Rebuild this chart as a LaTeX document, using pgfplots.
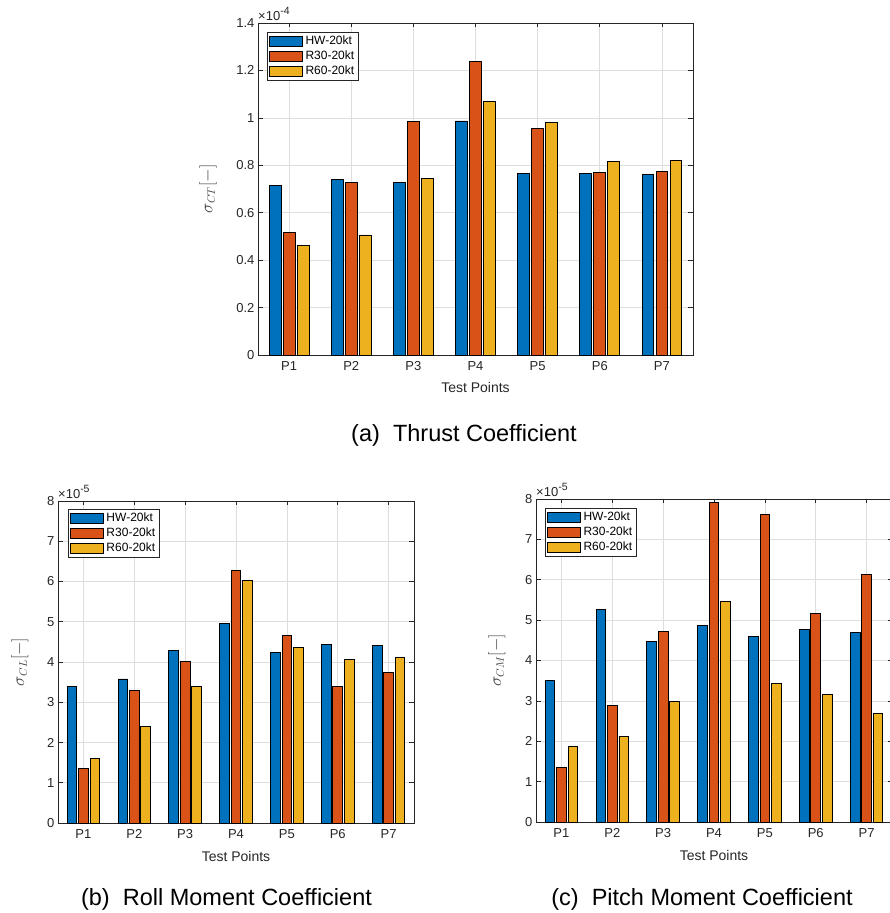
\documentclass[border=0pt]{standalone}
\usepackage{fontspec}
\setmainfont{Liberation Sans}
\usepackage{pgfplots}
\pgfplotsset{compat=1.18}
\definecolor{mblue}{rgb}{0,0.447,0.741}
\definecolor{morange}{rgb}{0.85,0.325,0.098}
\definecolor{myellow}{rgb}{0.929,0.694,0.125}
\definecolor{axgray}{rgb}{0.15,0.15,0.15}

\pgfplotsset{
  mystyle/.style={
    scale only axis,
    anchor=south west,
    ybar,
    bar width=0.19,
    xmin=0.5, xmax=7.5,
    ymin=0,
    clip=false,
    xtick={1,2,3,4,5,6,7},
    xticklabels={P1,P2,P3,P4,P5,P6,P7},
    tick align=inside,
    major tick length=4.5pt,
    tick style={axgray, line width=0.6pt},
    axis line style={axgray, line width=0.9pt},
    grid=major,
    major grid style={black!13, line width=0.6pt},
    ticklabel style={font=\fontsize{13}{15}\selectfont, text=axgray},
    xticklabel style={yshift=-3pt},
    /pgf/number format/assume math mode=true,
    xlabel={Test Points},
    xlabel style={font=\fontsize{14}{16}\selectfont, text=axgray, at={(axis description cs:0.5,0)}, anchor=center, yshift=-33pt},
    legend cell align=left,
    legend style={draw=axgray, line width=0.6pt, font=\fontsize{12}{14}\selectfont,
      at={(rel axis cs:0,1)}, anchor=north west, xshift=9pt, yshift=-9pt,
      inner xsep=2pt, inner ysep=1.5pt, row sep=0pt, nodes={inner sep=2.4pt}, text=black},
    legend image code/.code={\draw[#1, line width=0.8pt] (0pt,-5pt) rectangle (33pt,5pt);},
  },
  hw/.style={fill=mblue, draw=black, line width=0.8pt, bar shift=-0.225},
  rt/.style={fill=morange, draw=black, line width=0.8pt, bar shift=0},
  rs/.style={fill=myellow, draw=black, line width=0.8pt, bar shift=0.225},
}

\begin{document}
\begin{tikzpicture}
\path[use as bounding box] (0,0) rectangle (889pt,913pt);

% (a) Thrust coefficient
\begin{axis}[mystyle,
  at={(258pt,558pt)}, width=435pt, height=332pt,
  ymax=1.4, ytick={0,0.2,0.4,0.6,0.8,1,1.2,1.4},
  ylabel={$\sigma_{CT}[-]$},
  ylabel style={font=\fontsize{16}{18}\selectfont, text=black!75, at={(axis description cs:-0.115,0.5)}, anchor=center},
]
\addplot[hw] coordinates {(1,0.715) (2,0.740) (3,0.729) (4,0.987) (5,0.764) (6,0.767) (7,0.761)};
\addplot[rt] coordinates {(1,0.515) (2,0.726) (3,0.985) (4,1.236) (5,0.956) (6,0.771) (7,0.774)};
\addplot[rs] coordinates {(1,0.462) (2,0.506) (3,0.743) (4,1.071) (5,0.981) (6,0.815) (7,0.821)};
\legend{HW-20kt,R30-20kt,R60-20kt}
\node[anchor=south west, inner sep=0pt, yshift=2pt, font=\fontsize{13}{15}\selectfont, text=axgray] at (rel axis cs:0,1) {×10\raisebox{0.45em}{\fontsize{10.5}{12}\selectfont -4}};
\end{axis}

% (b) Roll moment coefficient
\begin{axis}[mystyle,
  at={(58pt,90pt)}, width=356pt, height=322pt,
  ymax=8, ytick={0,1,2,3,4,5,6,7,8},
  ylabel={$\sigma_{CL}[-]$},
  ylabel style={font=\fontsize{16}{18}\selectfont, text=black!75, at={(axis description cs:-0.107,0.5)}, anchor=center},
  legend style={xshift=1pt, yshift=1pt},
]
\addplot[hw] coordinates {(1,3.40) (2,3.58) (3,4.29) (4,4.96) (5,4.23) (6,4.43) (7,4.42)};
\addplot[rt] coordinates {(1,1.35) (2,3.29) (3,4.02) (4,6.27) (5,4.67) (6,3.39) (7,3.74)};
\addplot[rs] coordinates {(1,1.60) (2,2.39) (3,3.40) (4,6.02) (5,4.36) (6,4.07) (7,4.11)};
\legend{HW-20kt,R30-20kt,R60-20kt}
\node[anchor=south west, inner sep=0pt, yshift=2pt, font=\fontsize{13}{15}\selectfont, text=axgray] at (rel axis cs:0,1) {×10\raisebox{0.45em}{\fontsize{10.5}{12}\selectfont -5}};
\end{axis}

% (c) Pitch moment coefficient
\begin{axis}[mystyle,
  at={(536pt,91pt)}, width=356pt, height=323pt,
  ymax=8, ytick={0,1,2,3,4,5,6,7,8},
  ylabel={$\sigma_{CM}[-]$},
  ylabel style={font=\fontsize{16}{18}\selectfont, text=black!75, at={(axis description cs:-0.11,0.5)}, anchor=center},
]
\addplot[hw] coordinates {(1,3.50) (2,5.26) (3,4.47) (4,4.87) (5,4.60) (6,4.76) (7,4.70)};
\addplot[rt] coordinates {(1,1.35) (2,2.89) (3,4.72) (4,7.92) (5,7.62) (6,5.16) (7,6.13)};
\addplot[rs] coordinates {(1,1.88) (2,2.12) (3,2.98) (4,5.47) (5,3.43) (6,3.15) (7,2.69)};
\legend{HW-20kt,R30-20kt,R60-20kt}
\node[anchor=south west, inner sep=0pt, yshift=2pt, font=\fontsize{13}{15}\selectfont, text=axgray] at (rel axis cs:0,1) {×10\raisebox{0.45em}{\fontsize{10.5}{12}\selectfont -5}};
\end{axis}

\node[anchor=base, font=\fontsize{23.5}{26}\selectfont] at (464pt,471pt) {(a)\hspace{0.556em}Thrust Coefficient};
\node[anchor=base, font=\fontsize{23.5}{26}\selectfont] at (226.5pt,7pt) {(b)\hspace{0.556em}Roll Moment Coefficient};
\node[anchor=base, font=\fontsize{23.5}{26}\selectfont] at (702pt,7pt) {(c)\hspace{0.556em}Pitch Moment Coefficient};
\end{tikzpicture}
\end{document}
